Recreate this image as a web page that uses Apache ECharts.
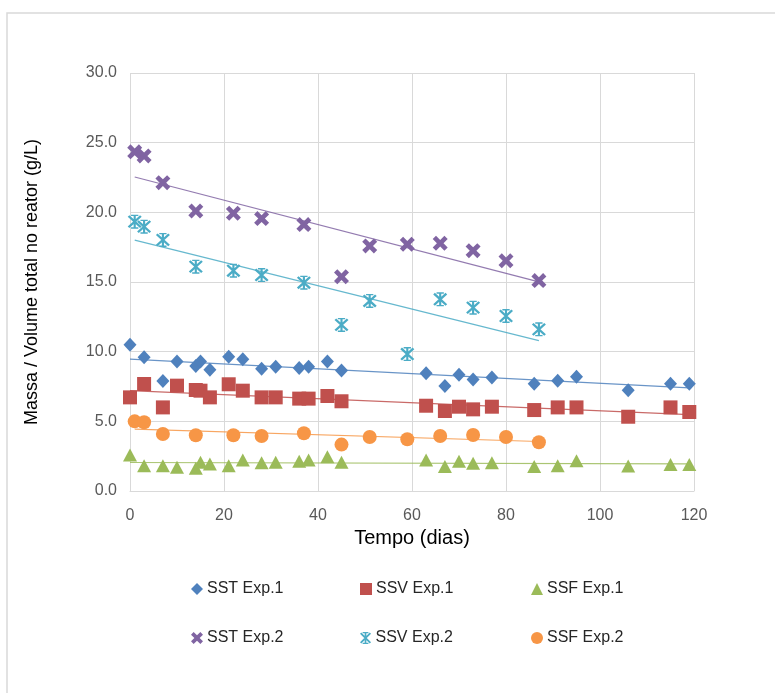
<!DOCTYPE html>
<html>
<head>
<meta charset="utf-8">
<script src="https://cdn.jsdelivr.net/npm/echarts@6/dist/echarts.min.js"></script>
<style>
html,body{margin:0;padding:0;background:#fff;}
#chart{width:775px;height:693px;}
</style>
</head>
<body>
<div id="chart"></div>
<script>
// ---- data ----
var daysExp1 = [0,3,7,10,14,15,17,21,24,28,31,36,38,42,45,63,67,70,73,77,86,91,95,106,115,119];
var sstExp1 = [10.5,9.6,7.9,9.3,8.97,9.3,8.7,9.64,9.45,8.78,8.92,8.83,8.92,9.3,8.64,8.45,7.54,8.35,8.0,8.14,7.7,7.92,8.2,7.23,7.7,7.7];
var ssvExp1 = [6.72,7.68,6.0,7.56,7.25,7.2,6.72,7.66,7.2,6.72,6.72,6.63,6.63,6.82,6.44,6.12,5.74,6.05,5.86,6.05,5.81,6.0,6.0,5.33,6.0,5.67];
var ssfExp1 = [2.58,1.82,1.82,1.7,1.63,2.06,1.94,1.82,2.23,2.03,2.06,2.13,2.23,2.46,2.06,2.23,1.75,2.13,1.99,2.03,1.75,1.82,2.18,1.8,1.91,1.91];

var daysExp2 = [1,3,7,14,22,28,37,45,51,59,66,73,80,87];
var sstExp2 = [24.34,24.05,22.13,20.1,19.93,19.55,19.12,15.38,17.59,17.71,17.78,17.25,16.53,15.1];
var ssvExp2 = [19.33,18.97,18.02,16.1,15.81,15.5,14.95,11.92,13.64,9.83,13.76,13.16,12.56,11.6];
var ssfExp2 = [5.0,4.93,4.09,4.0,4.0,3.95,4.14,3.33,3.88,3.71,3.95,4.02,3.88,3.5];

var seriesNames = ['SST Exp.1','SSV Exp.1','SSF Exp.1','SST Exp.2','SSV Exp.2','SSF Exp.2'];
var xTicks = [0,20,40,60,80,100,120];
var yTicks = [0,5,10,15,20,25,30];

// ---- styles ----
var colors = ['#4F81BD','#C0504D','#9BBB59','#8064A2','#4BACC6','#F79646'];
var xPath = 'path://M0,22 L22,0 L50,28 L78,0 L100,22 L72,50 L100,78 L78,100 L50,72 L22,100 L0,78 L28,50 Z';
var starPath = 'path://M43,0 L57,0 L57,100 L43,100 Z M26,0 L74,0 L74,10 L26,10 Z M26,90 L74,90 L74,100 L26,100 Z M4,15 L15,4 L96,85 L85,96 Z M85,4 L96,15 L15,96 L4,85 Z';
var symbols = ['diamond','rect','triangle', xPath, starPath, 'circle'];
var sizes = [[13,14],14,[14,13],15,14,14];

function pairs(xs, ys){ return xs.map(function(x,i){ return [x, ys[i]]; }); }
function trend(xs, ys){
  var n = xs.length, sx=0, sy=0, sxx=0, sxy=0;
  for (var i=0;i<n;i++){ sx+=xs[i]; sy+=ys[i]; sxx+=xs[i]*xs[i]; sxy+=xs[i]*ys[i]; }
  var b = (n*sxy - sx*sy)/(n*sxx - sx*sx);
  var a = (sy - b*sx)/n;
  var x0 = Math.min.apply(null, xs), x1 = Math.max.apply(null, xs);
  return [[x0, a+b*x0],[x1, a+b*x1]];
}

var groups = [
  [daysExp1, sstExp1],[daysExp1, ssvExp1],[daysExp1, ssfExp1],
  [daysExp2, sstExp2],[daysExp2, ssvExp2],[daysExp2, ssfExp2]
];

var series = [];
groups.forEach(function(g, i){
  series.push({
    name: seriesNames[i] + ' trend',
    type: 'line',
    data: trend(g[0], g[1]),
    symbol: 'none',
    lineStyle: { color: colors[i], width: 1.2, opacity: 0.85 },
    silent: true,
    z: 1
  });
});
groups.forEach(function(g, i){
  series.push({
    name: seriesNames[i],
    type: 'scatter',
    data: pairs(g[0], g[1]),
    symbol: symbols[i],
    symbolSize: sizes[i],
    itemStyle: { color: colors[i], opacity: 1 },
    z: 3
  });
});

var legendLeft = [191, 360, 531];
var legendTop = [581, 630];
var legends = seriesNames.map(function(n, i){
  return {
    data: [{ name: n, icon: symbols[i] }],
    left: legendLeft[i % 3],
    top: legendTop[Math.floor(i / 3)],
    padding: 0,
    itemWidth: 12, itemHeight: 12,
    itemGap: 0,
    textStyle: { fontFamily: 'Liberation Sans', fontSize: 16, color: '#262626', padding: [0,0,0,-1] },
    selectedMode: false
  };
});

var chart = echarts.init(document.getElementById('chart'), null, { renderer: 'canvas' });
chart.setOption({
  animation: false,
  backgroundColor: '#ffffff',
  color: colors,
  graphic: [{
    type: 'rect',
    shape: { x: 7, y: 13, width: 800, height: 720 },
    style: { fill: 'none', stroke: '#d9d9d9', lineWidth: 1.5 },
    silent: true, z: -10
  }],
  grid: { left: 130, right: 81, top: 73, bottom: 202, containLabel: false },
  legend: legends,
  xAxis: {
    type: 'value',
    min: xTicks[0], max: xTicks[xTicks.length-1], interval: 20,
    name: 'Tempo (dias)',
    nameLocation: 'middle',
    nameGap: 35,
    nameTextStyle: { fontFamily: 'Liberation Sans', fontSize: 20, color: '#000000' },
    axisLine: { show: true, lineStyle: { color: '#d9d9d9', width: 1 } },
    axisTick: { show: false },
    axisLabel: { margin: 17, fontFamily: 'Liberation Sans', fontSize: 16, color: '#595959' },
    splitLine: { show: true, lineStyle: { color: '#d9d9d9', width: 1 } }
  },
  yAxis: {
    type: 'value',
    min: yTicks[0], max: yTicks[yTicks.length-1], interval: 5,
    name: 'Massa / Volume total no reator (g/L)',
    nameLocation: 'middle',
    nameGap: 89,
    nameTextStyle: { fontFamily: 'Liberation Sans', fontSize: 18, color: '#000000' },
    axisLine: { show: false },
    axisTick: { show: false },
    axisLabel: { margin: 13, fontFamily: 'Liberation Sans', fontSize: 16, color: '#595959',
      formatter: function(v){ return v.toFixed(1); } },
    splitLine: { show: true, lineStyle: { color: '#d9d9d9', width: 1 } }
  },
  series: series
});
</script>
</body>
</html>
